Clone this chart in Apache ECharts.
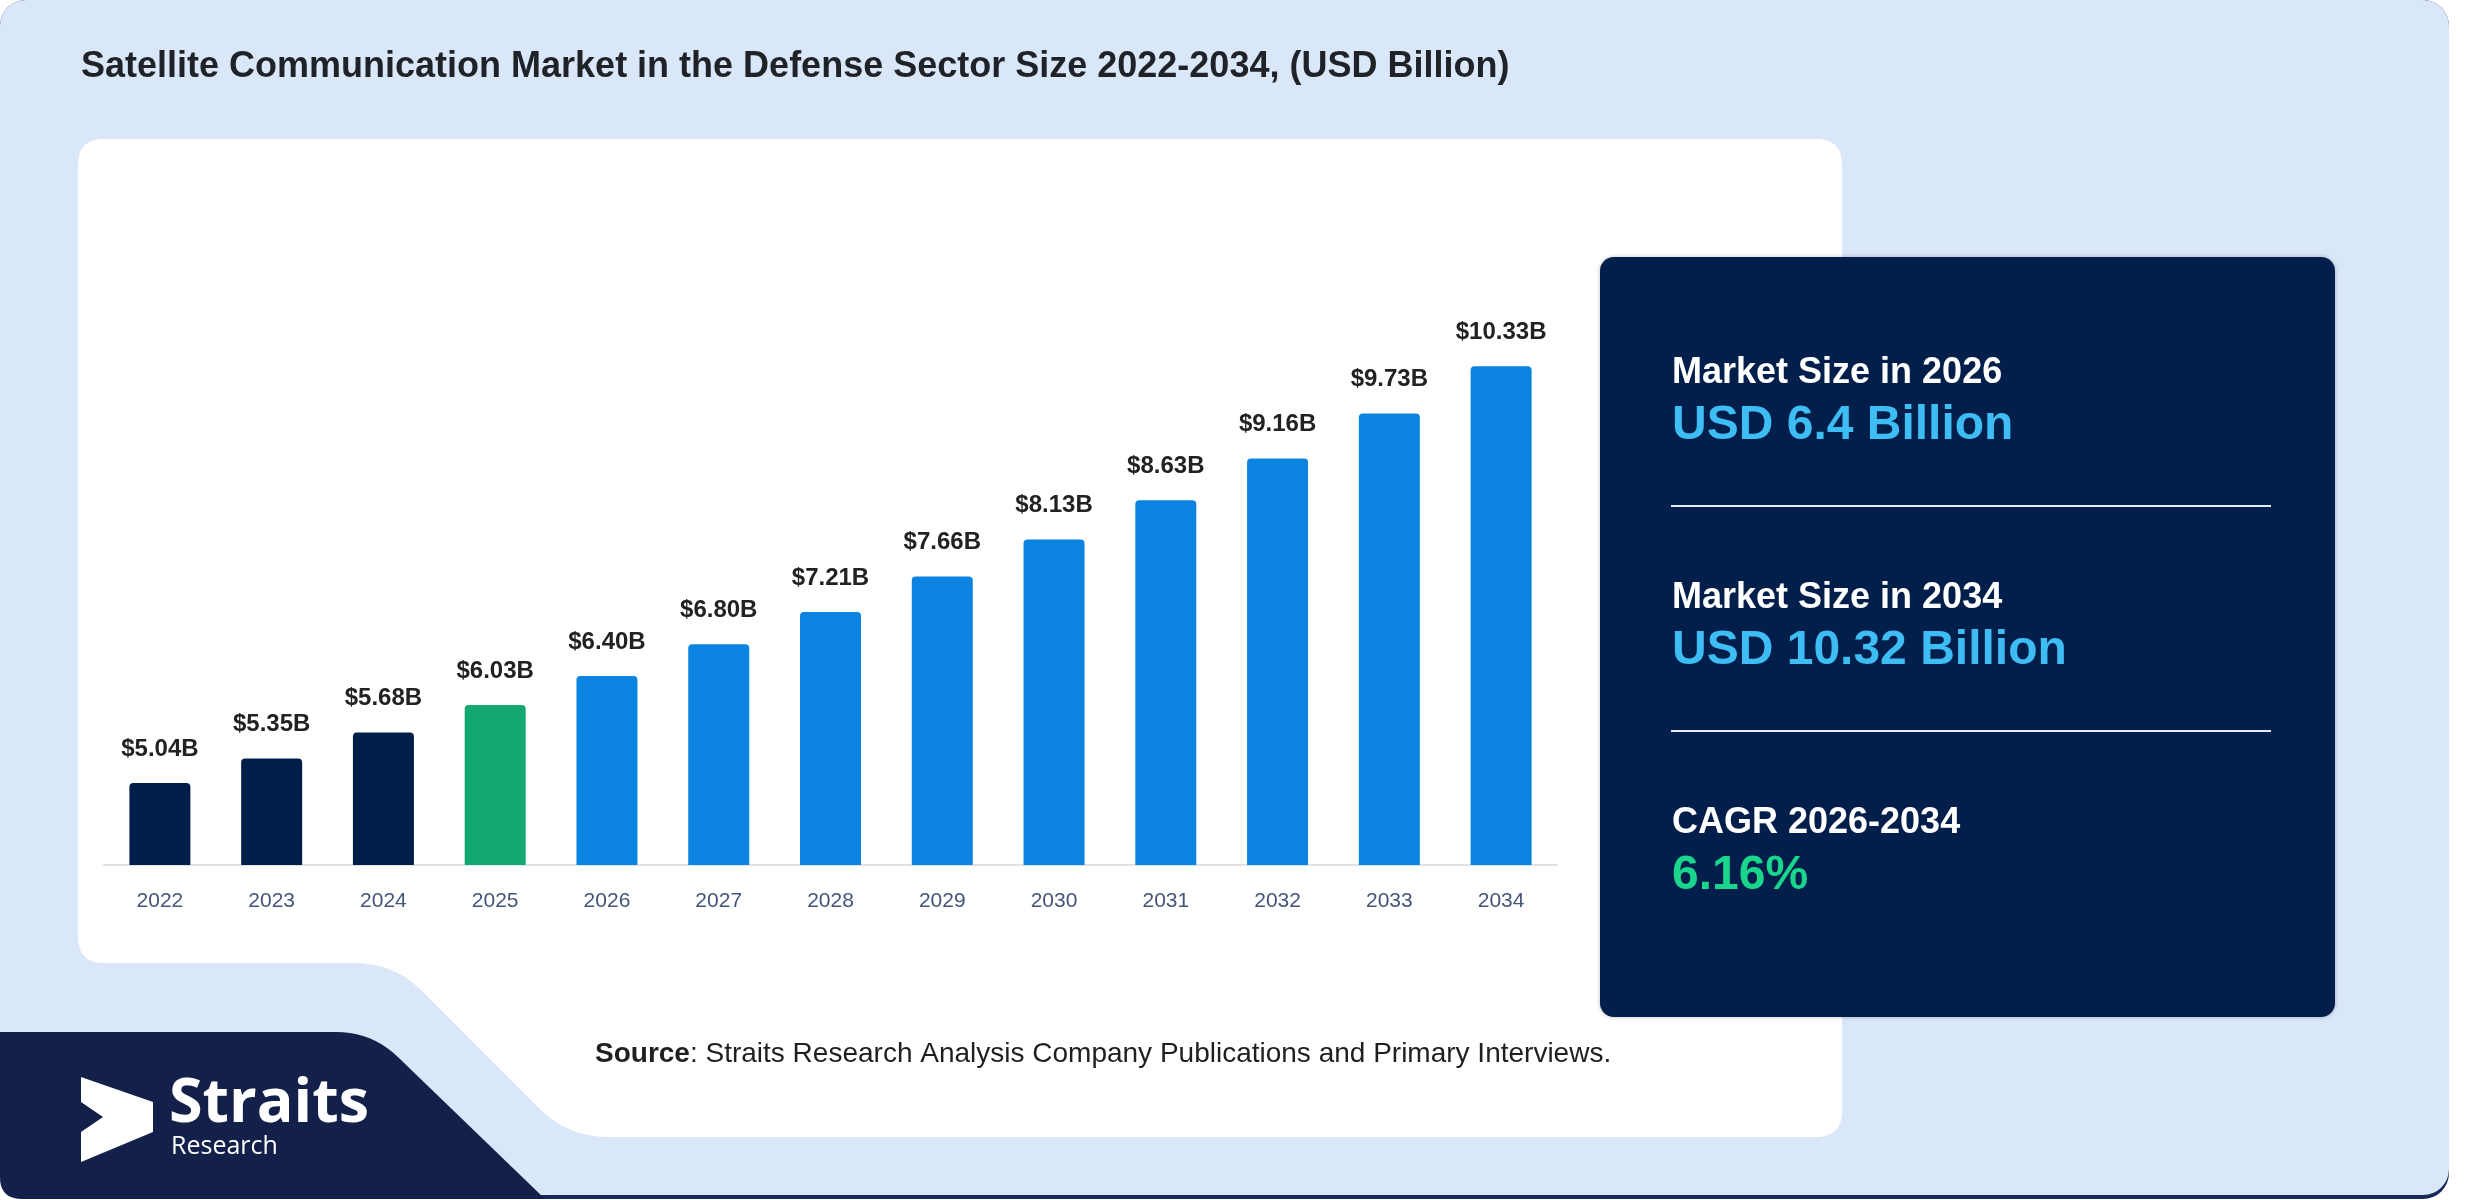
<!DOCTYPE html>
<html>
<head>
<meta charset="utf-8">
<script src="https://cdn.jsdelivr.net/npm/echarts@6/dist/echarts.min.js"></script>
<style>
  html, body { margin: 0; padding: 0; background: #ffffff; }
  #chart { width: 2480px; height: 1200px; }
</style>
</head>
<body>
<div id="chart"></div>
<script>
// ---- data ----
const years = ['2022','2023','2024','2025','2026','2027','2028','2029','2030','2031','2032','2033','2034'];
const marketSize = [5.04, 5.35, 5.68, 6.03, 6.40, 6.80, 7.21, 7.66, 8.13, 8.63, 9.16, 9.73, 10.33];
const baseYear = '2025';
const titleText = 'Satellite Communication Market in the Defense Sector Size 2022-2034, (USD Billion)';
const panelLabels = ['Market Size in 2026', 'Market Size in 2034', 'CAGR 2026-2034'];
const panelValues = ['USD 6.4 Billion', 'USD 10.32 Billion', '6.16%'];
const sourceText = 'Straits Research Analysis Company Publications and Primary Interviews.';

// ---- helpers for decorative shapes ----
function roundPoly(pts, radii) {
  const out = [];
  const n = pts.length;
  for (let i = 0; i < n; i++) {
    const p = pts[i], prev = pts[(i - 1 + n) % n], next = pts[(i + 1) % n];
    const r = radii[i] || 0;
    if (!r) { out.push(p); continue; }
    const v1 = [prev[0] - p[0], prev[1] - p[1]], v2 = [next[0] - p[0], next[1] - p[1]];
    const l1 = Math.hypot(v1[0], v1[1]), l2 = Math.hypot(v2[0], v2[1]);
    const a = [p[0] + v1[0] / l1 * r, p[1] + v1[1] / l1 * r];
    const b = [p[0] + v2[0] / l2 * r, p[1] + v2[1] / l2 * r];
    for (let k = 0; k <= 10; k++) {
      const t = k / 10;
      out.push([
        (1 - t) * (1 - t) * a[0] + 2 * (1 - t) * t * p[0] + t * t * b[0],
        (1 - t) * (1 - t) * a[1] + 2 * (1 - t) * t * p[1] + t * t * b[1]
      ]);
    }
  }
  return out;
}

const COLORS = { hist: '#001e48', base: '#12a870', fc: '#0a84e0' };
function barColor(i) {
  const y = +years[i], b = +baseYear;
  return y < b ? COLORS.hist : (y === b ? COLORS.base : COLORS.fc);
}

const chart = echarts.init(document.getElementById('chart'), null, { renderer: 'canvas' });

const FONT = 'Liberation Sans, Arial, sans-serif';
const panelX = 1672;
const blockStep = 225;

const graphics = [
  { type: 'rect', z: -30, shape: { x: 0, y: 0, width: 2449, height: 1199, r: 26 }, style: { fill: '#1a2a58' }, silent: true },
  { type: 'rect', z: -29, shape: { x: 0, y: 0, width: 2449, height: 1195, r: 26 }, style: { fill: '#dae7f8' }, silent: true },
  { type: 'polygon', z: -28, silent: true,
    shape: { points: roundPoly([[78,139],[1842,139],[1842,1137],[568,1137],[394,963],[78,963]], [26,26,26,40,40,26]) },
    style: { fill: '#ffffff' } },
  { type: 'polygon', z: -27, silent: true,
    shape: { points: roundPoly([[0,1032],[372,1032],[545,1199],[0,1199]], [0,36,0,22]) },
    style: { fill: '#13214a' } },
  { type: 'rect', z: -26, silent: true, shape: { x: 1600, y: 257, width: 735, height: 760, r: 14 },
    style: { fill: '#011f4a', shadowBlur: 4, shadowColor: 'rgba(0,0,0,0.25)' } },
  { type: 'text', x: 81, y: 67.5, silent: true,
    style: { text: titleText, font: 'bold 36px ' + FONT, fill: '#1f2328', verticalAlign: 'middle', align: 'left' } },
  { type: 'text', x: 595, y: 1054, silent: true,
    style: { text: '{b|Source}: ' + sourceText, font: '28px ' + FONT, fill: '#1f1f1f', verticalAlign: 'middle', align: 'left',
      rich: { b: { fontWeight: 'bold', fontSize: 28, fontFamily: FONT, fill: '#1f1f1f' } } } },
  { type: 'polygon', silent: true,
    shape: { points: [[81,1077],[153,1102],[153,1132],[81,1162],[81,1132],[103,1117],[81,1102]] },
    style: { fill: '#ffffff' } },
  { type: 'text', x: 169, y: 1105, silent: true,
    style: { text: 'Straits', font: 'bold 61px "Open Sans", sans-serif', fill: '#ffffff', verticalAlign: 'middle', align: 'left' } },
  { type: 'text', x: 171, y: 1147, silent: true,
    style: { text: 'Research', font: '25px "Open Sans", sans-serif', fill: '#ffffff', verticalAlign: 'middle', align: 'left' } }
];

const valueColors = ['#3ebdf5', '#3ebdf5', '#19d68c'];
panelLabels.forEach((lab, i) => {
  graphics.push({ type: 'text', x: panelX, y: 373 + i * blockStep, silent: true,
    style: { text: lab, font: 'bold 36px ' + FONT, fill: '#ffffff', verticalAlign: 'middle', align: 'left' } });
  graphics.push({ type: 'text', x: panelX, y: 425.5 + i * blockStep, silent: true,
    style: { text: panelValues[i], font: 'bold 48px ' + FONT, fill: valueColors[i], verticalAlign: 'middle', align: 'left' } });
  if (i < panelLabels.length - 1) {
    graphics.push({ type: 'line', silent: true, shape: { x1: 1671, y1: 506 + i * blockStep, x2: 2271, y2: 506 + i * blockStep },
      style: { stroke: '#e6ecf5', lineWidth: 2 } });
  }
});

chart.setOption({
  animation: false,
  backgroundColor: '#ffffff',
  graphic: graphics,
  grid: { left: 104, right: 923, top: 313.4, bottom: 335, containLabel: false },
  xAxis: {
    type: 'category',
    data: years,
    axisLine: { show: true, lineStyle: { color: '#e2e2e2', width: 2 } },
    axisTick: { show: false },
    axisLabel: { margin: 26, fontSize: 21, color: '#44557a', fontFamily: FONT }
  },
  yAxis: {
    type: 'value', min: 4, max: 11, interval: 1,
    show: false,
    splitLine: { show: false }
  },
  series: [{
    type: 'bar',
    data: marketSize.map((v, i) => ({ value: v, itemStyle: { color: barColor(i) } })),
    barWidth: 61,
    itemStyle: { borderRadius: [4, 4, 0, 0] },
    label: {
      show: true, position: 'top', distance: 22,
      formatter: p => '$' + p.value.toFixed(2) + 'B',
      fontSize: 24, fontWeight: 'bold', color: '#222222', fontFamily: FONT
    }
  }]
});
</script>
</body>
</html>
